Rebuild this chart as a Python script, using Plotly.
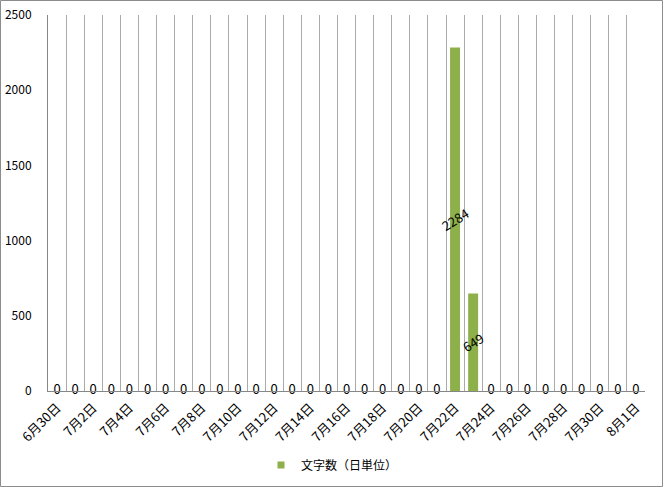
import plotly.graph_objects as go

categories = ["6月30日"] + [f"7月{d}日" for d in range(1, 32)] + ["8月1日"]
values = [0] * 22 + [2284, 649] + [0] * 9
series_name = "文字数（日単位）"
y_ticks = [0, 500, 1000, 1500, 2000, 2500]
tick_labels = [c if i % 2 == 0 else "" for i, c in enumerate(categories)]

W, H = 664, 487
L, R, T, B = 48, 19, 15, 96
pw, ph = W - L - R, H - T - B

font = "Noto Sans CJK JP, Noto Sans, sans-serif"
bar_color = "#8DB04A"

fig = go.Figure()
fig.add_trace(go.Bar(
    x=categories, y=values, name=series_name, showlegend=False,
    marker=dict(color=bar_color, line=dict(width=0)),
    width=0.55,
    text=[str(v) if v else "" for v in values],
    textposition="inside", insidetextanchor="middle",
    textangle=-32, constraintext="none",
    textfont=dict(family=font, size=13, color="#000000"),
    hoverinfo="x+y",
))
fig.add_trace(go.Scatter(
    x=[c for c, v in zip(categories, values) if v == 0],
    y=[0 for v in values if v == 0],
    mode="text", text=["0" for v in values if v == 0],
    textposition="middle center",
    textfont=dict(family=font, size=13, color="#000000"),
    showlegend=False, cliponaxis=False, hoverinfo="skip",
))
# legend entry for the bar series (small square swatch)
fig.add_trace(go.Scatter(
    x=[None], y=[None], mode="markers", name=series_name,
    marker=dict(symbol="square", size=7, color=bar_color),
    showlegend=True, hoverinfo="skip",
))

fig.update_layout(
    width=W, height=H,
    margin=dict(l=L, r=R, t=T, b=B, autoexpand=False),
    paper_bgcolor="white", plot_bgcolor="white",
    font=dict(family=font, size=12, color="#000000"),
    bargap=0.45,
    showlegend=True,
    legend=dict(orientation="h", x=(261 - L) / pw, xanchor="left",
                y=(T + ph - 465) / ph, yanchor="middle",
                font=dict(size=12), itemwidth=30),
    xaxis=dict(
        type="category", tickmode="array", tickvals=categories, ticktext=tick_labels,
        tickangle=-45, tickson="boundaries", showgrid=True, gridcolor="#ABABAB",
        gridwidth=1, ticks="", showline=True, linecolor="#868686", linewidth=1,
        tickfont=dict(size=13), range=[-0.5, len(categories) - 0.5], automargin=False,
        ticklabelstandoff=3,
    ),
    yaxis=dict(
        range=[0, 2500], tickvals=y_ticks, showgrid=False, zeroline=False,
        showline=True, linecolor="#868686", linewidth=1, ticks="",
        ticklabelstandoff=13, tickfont=dict(size=12), automargin=False,
    ),
    shapes=[dict(
        type="rect", xref="paper", yref="paper",
        x0=(0.5 - L) / pw, x1=(W - 1.5 - L) / pw,
        y0=-(B - 0.5) / ph, y1=1 + (T - 0.5) / ph,
        line=dict(color="#8C8C8C", width=1), fillcolor="rgba(0,0,0,0)", layer="above",
    )],
)

fig.write_html("out.html", config={"displayModeBar": False},
               post_script="document.body.style.margin='0';document.body.style.overflow='hidden';")
